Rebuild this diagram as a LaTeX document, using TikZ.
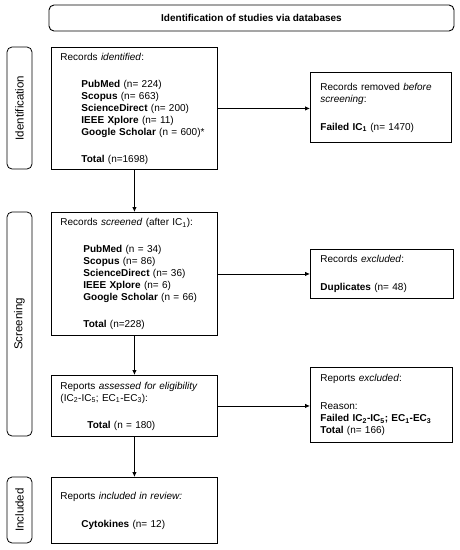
\documentclass[tikz,border=0pt]{standalone}
\usepackage{fontspec}
\setmainfont{Liberation Sans}
\usetikzlibrary{arrows.meta}

\begin{document}
\begin{tikzpicture}[x=1pt,y=-1pt,
    box/.style={draw,line width=0.9pt,anchor=north west,align=left,inner xsep=9pt,inner ysep=0pt,font=\fontsize{10}{12}\selectfont},
    sidebox/.style={box,inner xsep=10pt},
    phase/.style={draw,line width=0.8pt,rounded corners=5pt,rotate=90,minimum height=25pt,inner sep=0pt,font=\fontsize{11.5}{13}\selectfont},
    arr/.style={-{Latex[length=5pt,width=4.5pt]},line width=0.9pt}]
      \useasboundingbox (0,0) rectangle (459,550);
      % header
      \node[draw,line width=0.9pt,rounded corners=5pt,minimum width=405pt,minimum height=26pt,font=\fontsize{10}{12}\selectfont\bfseries] (head) at (251.5,18) {Identification of studies via databases};
      % phases on the left
      \node[phase,minimum width=122pt] (pident) at (19.5,108) {Identification};
      \node[phase,minimum width=224pt] (pscreen) at (19.5,324) {Screening};
      \node[phase,minimum width=66pt] (pincl) at (19.5,510) {Included};
      % main column
      \node[box,text width=148pt,minimum height=122pt] (ident) at (51,47) {Records \textit{identified}:\\[15pt]
        \hspace*{21pt}\textbf{PubMed} (n= 224)\\
        \hspace*{21pt}\textbf{Scopus} (n= 663)\\
        \hspace*{21pt}\textbf{ScienceDirect} (n= 200)\\
        \hspace*{21pt}\textbf{IEEE Xplore} (n= 11)\\
        \hspace*{21pt}\textbf{Google Scholar} (n = 600)*\\[15pt]
        \hspace*{21pt}\textbf{Total} (n=1698)};
      \node[box,text width=148pt,minimum height=123pt] (screen) at (51,212) {Records \textit{screened} (after IC\textsubscript{1}):\\[15pt]
        \hspace*{23pt}\textbf{PubMed} (n = 34)\\
        \hspace*{23pt}\textbf{Scopus} (n= 86)\\
        \hspace*{23pt}\textbf{ScienceDirect} (n= 36)\\
        \hspace*{23pt}\textbf{IEEE Xplore} (n= 6)\\
        \hspace*{23pt}\textbf{Google Scholar} (n = 66)\\[15pt]
        \hspace*{23pt}\textbf{Total} (n=228)};
      \node[box,text width=148pt,minimum height=61pt] (assess) at (51,375) {Reports \textit{assessed for eligibility}\\
        (IC\textsubscript{2}-IC\textsubscript{5}; EC\textsubscript{1}-EC\textsubscript{3}):\\[15pt]
        \hspace*{27pt}\textbf{Total} (n = 180)};
      \node[box,text width=148pt,minimum height=66pt] (incl) at (51,477) {Reports \textit{included in review:}\\[16pt]
        \hspace*{21pt}\textbf{Cytokines} (n= 12)};
      % right column
      \node[sidebox,text width=121pt,minimum height=70pt] (removed) at (310,72) {Records removed \textit{before}\\
        \textit{screening}:\\[16pt]
        \textbf{Failed IC\textsubscript{1}} (n= 1470)};
      \node[sidebox,text width=123pt,minimum height=49pt] (dupl) at (310,249) {Records \textit{excluded}:\\[16pt]
        \textbf{Duplicates} (n= 48)};
      \node[sidebox,text width=122pt,minimum height=75pt] (rexcl) at (310,367) {Reports \textit{excluded}:\\[16pt]
        Reason:\\
        \textbf{Failed IC\textsubscript{2}-IC\textsubscript{5}; EC\textsubscript{1}-EC\textsubscript{3}}\\
        \textbf{Total} (n= 166)};
      % arrows
      \draw[arr] (ident) -- (screen);
      \draw[arr] (screen) -- (assess);
      \draw[arr] (assess) -- (incl);
      \draw[arr] (ident.east) -- (removed.west |- ident.east);
      \draw[arr] (screen.east) -- (dupl.west |- screen.east);
      \draw[arr] (assess.east) -- (rexcl.west |- assess.east);
\end{tikzpicture}
\end{document}
